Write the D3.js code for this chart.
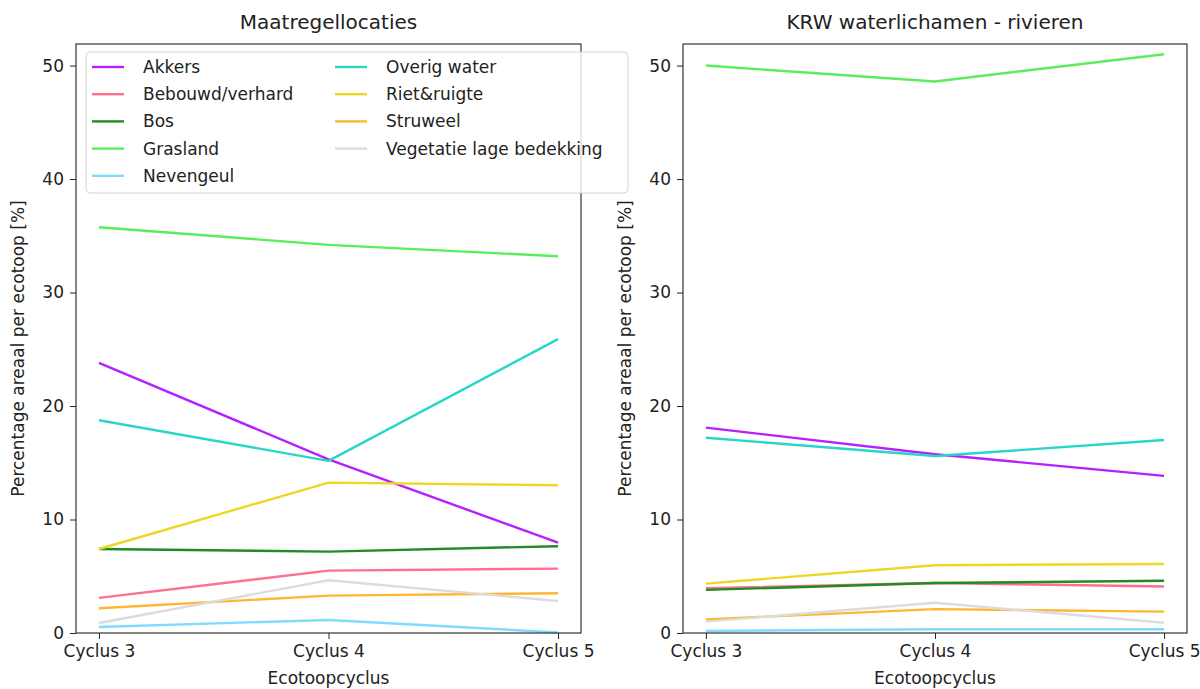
<!DOCTYPE html>
<html>
<head>
<meta charset="utf-8">
<script src="https://cdn.jsdelivr.net/npm/d3@7"></script>
<style>
  body { margin: 0; background: #fff; }
  svg text { font-family: "DejaVu Sans", sans-serif; fill: #222; }
  .axis path, .axis line { stroke: #222; }
</style>
</head>
<body>
<div class="chart"></div>
<script>
const CYCLES = ["Cyclus 3", "Cyclus 4", "Cyclus 5"];
const CATEGORIES = ["Akkers", "Bebouwd/verhard", "Bos", "Grasland", "Nevengeul",
  "Overig water", "Riet&ruigte", "Struweel", "Vegetatie lage bedekking"];
const COLORS = ["#b61fff", "#ff6f8f", "#228b22", "#5aee5a", "#7fdcff",
  "#26d7c8", "#ecd824", "#ffb733", "#dcdcdc"];
const Y_TICKS = [0, 10, 20, 30, 40, 50];

// Maatregellocaties
const MAATREGEL = [
  [23.8, 15.3, 7.96],
  [3.1, 5.5, 5.67],
  [7.4, 7.17, 7.65],
  [35.75, 34.2, 33.2],
  [0.53, 1.15, 0.05],
  [18.75, 15.17, 25.9],
  [7.4, 13.25, 13.02],
  [2.18, 3.29, 3.5],
  [0.88, 4.65, 2.82]
];

// KRW waterlichamen - rivieren
const KRW = [
  [18.1, 15.75, 13.85],
  [3.95, 4.4, 4.1],
  [3.8, 4.4, 4.6],
  [50.0, 48.6, 51.0],
  [0.18, 0.33, 0.33],
  [17.2, 15.6, 17.0],
  [4.35, 5.97, 6.08],
  [1.2, 2.1, 1.88],
  [1.0, 2.67, 0.9]
];

const WIDTH = 1200;
const HEIGHT = 689;
const TOP = 44;
const BOTTOM = 633;
const Y_MAX = 51.9;

const svg = d3.select(".chart").append("svg").attr("width", WIDTH).attr("height", HEIGHT);

const yScale = d3.scaleLinear().domain([0, Y_MAX]).range([BOTTOM, TOP]);

function drawPanel(left, right, title, values, withLegend) {
  const xScale = d3.scalePoint().domain(CYCLES).range([left, right]).padding(0.1);
  const g = svg.append("g");

  // lines
  const line = d3.line().x((d, i) => xScale(CYCLES[i])).y(d => yScale(d));
  g.append("g").selectAll("path").data(values).enter().append("path")
    .attr("d", d => line(d))
    .attr("fill", "none")
    .attr("stroke", (d, i) => COLORS[i])
    .attr("stroke-width", 2.4)
    .attr("stroke-linejoin", "round");

  // frame
  g.append("rect")
    .attr("x", left).attr("y", TOP)
    .attr("width", right - left).attr("height", BOTTOM - TOP)
    .attr("fill", "none").attr("stroke", "#222").attr("stroke-width", 1.1);

  // x axis
  const xAxis = g.append("g")
    .attr("class", "axis")
    .attr("transform", `translate(0, ${BOTTOM})`)
    .call(d3.axisBottom(xScale).tickSize(6).tickSizeOuter(0));
  xAxis.select(".domain").remove();
  xAxis.selectAll("text").attr("font-size", 17).attr("dy", "0.9em");

  // y axis
  const yAxis = g.append("g")
    .attr("class", "axis")
    .attr("transform", `translate(${left}, 0)`)
    .call(d3.axisLeft(yScale).tickValues(Y_TICKS).tickSize(6).tickSizeOuter(0));
  yAxis.select(".domain").remove();
  yAxis.selectAll("text").attr("font-size", 17).attr("x", -12);

  // labels
  g.append("text")
    .attr("x", (left + right) / 2).attr("y", 29)
    .attr("text-anchor", "middle").attr("font-size", 20)
    .text(title);
  g.append("text")
    .attr("x", (left + right) / 2).attr("y", 684)
    .attr("text-anchor", "middle").attr("font-size", 17)
    .text("Ecotoopcyclus");
  g.append("text")
    .attr("transform", "rotate(-90)")
    .attr("x", -(TOP + BOTTOM) / 2 - 10).attr("y", left - 52)
    .attr("text-anchor", "middle").attr("font-size", 17)
    .text("Percentage areaal per ecotoop [%]");

  if (withLegend) {
    const legend = svg.append("g");
    legend.append("rect")
      .attr("x", 86).attr("y", 52).attr("width", 542).attr("height", 141)
      .attr("rx", 4)
      .attr("fill", "#fff").attr("fill-opacity", 0.8)
      .attr("stroke", "#d4d4d4");
    const items = legend.selectAll("g").data(CATEGORIES).enter().append("g")
      .attr("transform", (d, i) => {
        const col = i < 5 ? 0 : 1;
        const row = i < 5 ? i : i - 5;
        return `translate(${col === 0 ? 92 : 335}, ${67 + row * 27.2})`;
      });
    items.append("line")
      .attr("x1", 0).attr("x2", 32).attr("y1", 0).attr("y2", 0)
      .attr("stroke", (d, i) => COLORS[i]).attr("stroke-width", 2.4);
    items.append("text")
      .attr("x", 51).attr("y", 0).attr("dy", "0.35em")
      .attr("font-size", 17)
      .text(d => d);
  }
}

drawPanel(76, 581, "Maatregellocaties", MAATREGEL, true);
drawPanel(683, 1187, "KRW waterlichamen - rivieren", KRW, false);
</script>
</body>
</html>
